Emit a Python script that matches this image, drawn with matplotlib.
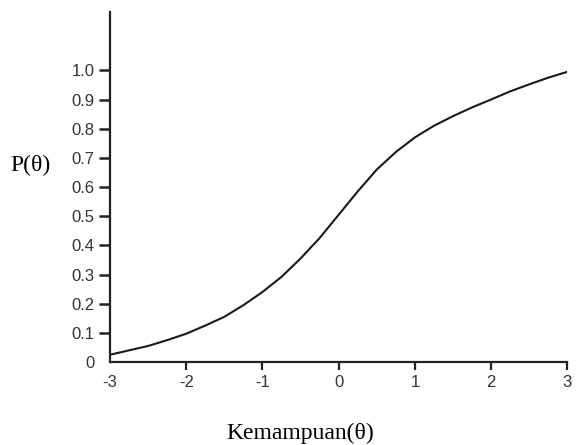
import matplotlib
matplotlib.use("Agg")
import matplotlib.pyplot as plt

theta = [-3.0, -2.75, -2.5, -2.25, -2.0, -1.75, -1.5, -1.25, -1.0, -0.75, -0.5, -0.25,
         0.0, 0.25, 0.5, 0.75, 1.0, 1.25, 1.5, 1.75, 2.0, 2.25, 2.5, 2.75, 3.0]
prob = [0.025, 0.040, 0.055, 0.075, 0.097, 0.125, 0.155, 0.195, 0.240, 0.292, 0.355, 0.425,
        0.505, 0.585, 0.660, 0.720, 0.770, 0.810, 0.843, 0.873, 0.900, 0.928, 0.952, 0.975, 0.995]

yticks = [0, 0.1, 0.2, 0.3, 0.4, 0.5, 0.6, 0.7, 0.8, 0.9, 1.0]
ytick_labels = ["0", "0.1", "0.2", "0.3", "0.4", "0.5", "0.6", "0.7", "0.8", "0.9", "1.0"]
xticks = [-3, -2, -1, 0, 1, 2, 3]
xtick_labels = ["-3", "-2", "-1", "0", "1", "2", "3"]

fig = plt.figure(figsize=(5.76, 4.45), dpi=100)
ax = fig.add_axes([0.191, 0.1865, 0.794, 0.7865])

ax.plot(theta, prob, color="#1a1a1a", lw=1.5)
ax.set_xlim(-3, 3)
ax.set_ylim(0, 1.2)

for s in ["top", "right"]:
    ax.spines[s].set_visible(False)
for s in ["left", "bottom"]:
    ax.spines[s].set_linewidth(1.6)
    ax.spines[s].set_color("#222222")

ax.set_yticks(yticks)
ax.set_yticklabels(ytick_labels, fontfamily="Liberation Sans", fontsize=12, color="#333333")
ax.set_xticks(xticks)
ax.set_xticklabels(xtick_labels, fontfamily="Liberation Sans", fontsize=12, color="#333333")
ax.tick_params(axis="y", direction="out", length=8, width=1.8, color="#222222", pad=3)
ax.tick_params(axis="x", direction="out", length=6, width=1.6, color="#222222", pad=3)
ax.yaxis.get_major_ticks()[0].tick1line.set_visible(False)
ax.xaxis.get_major_ticks()[0].tick1line.set_visible(False)

fig.text(10 / 576, 1 - 165 / 445, "P(θ)", fontfamily="Liberation Serif", fontsize=17,
         ha="left", va="center")
fig.text(300 / 576, 1 - 433 / 445, "Kemampuan(θ)", fontfamily="Liberation Serif", fontsize=17,
         ha="center", va="center")

fig.savefig("out.png", dpi=100)
